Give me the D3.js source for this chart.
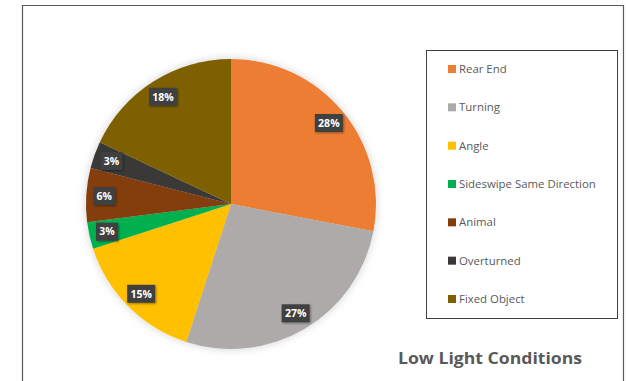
<!DOCTYPE html>
<html><head><meta charset="utf-8">
<script src="https://cdn.jsdelivr.net/npm/d3@7"></script>
<style>body{margin:0;background:#fff}svg{display:block}</style>
</head><body>
<svg id="c" width="628" height="381"></svg>
<script>
const categories = ["Rear End","Turning","Angle","Sideswipe Same Direction","Animal","Overturned","Fixed Object"];
const values = [28,27,15,3,6,3,18];
const colors = ["#ED7D31","#AEAAAA","#FFC000","#00B050","#843C0C","#3A3838","#7F6000"];
const title = "Low Light Conditions";

const svg = d3.select("#c");
const defs = svg.append("defs");
const f = defs.append("filter").attr("id","sh").attr("x","-20%").attr("y","-20%").attr("width","140%").attr("height","140%");
f.append("feDropShadow").attr("dx",0).attr("dy",0).attr("stdDeviation",4).attr("flood-color","#000").attr("flood-opacity",0.18);
const f2 = defs.append("filter").attr("id","lsh").attr("x","-30%").attr("y","-30%").attr("width","160%").attr("height","160%");
f2.append("feDropShadow").attr("dx",1).attr("dy",1).attr("stdDeviation",1).attr("flood-color","#000").attr("flood-opacity",0.4);

// outer frame (bottom runs off the picture)
svg.append("path").attr("d","M22.5,400 L22.5,5.5 L623.5,5.5 L623.5,400")
  .attr("fill","none").attr("stroke","#595959").attr("stroke-width",1.2);

const cx = 231, cy = 204, R = 145;
const pie = d3.pie().sort(null).value(d=>d)(values);
const arc = d3.arc().innerRadius(0).outerRadius(R);
const g = svg.append("g").attr("transform",`translate(${cx},${cy})`);
g.append("g").attr("filter","url(#sh)").selectAll("path").data(pie).join("path")
  .attr("d",arc).attr("fill",(d,i)=>colors[i]);

const labelArc = d3.arc().innerRadius(127).outerRadius(127);
const lg = g.selectAll("g.lbl").data(pie).join("g").attr("class","lbl")
  .attr("transform",d=>`translate(${labelArc.centroid(d)})`);
lg.append("rect").attr("filter","url(#lsh)")
  .attr("x",d=>-(d.value>=10?14:11)).attr("y",-9)
  .attr("width",d=>d.value>=10?28:22).attr("height",18)
  .attr("fill","#404040");
lg.append("text").text(d=>d.value+"%")
  .attr("text-anchor","middle").attr("dy","0.36em")
  .attr("font-family","Open Sans, sans-serif").attr("font-weight","bold")
  .attr("font-size",10.5).attr("fill","#fff");

// legend
svg.append("rect").attr("x",426.5).attr("y",50.5).attr("width",191).attr("height",268)
  .attr("fill","#fff").attr("stroke","#404040").attr("stroke-width",1);
const ly = d3.scalePoint().domain(categories).range([69,299]);
const li = svg.selectAll("g.leg").data(categories).join("g").attr("class","leg")
  .attr("transform",d=>`translate(448,${ly(d)})`);
li.append("rect").attr("x",0).attr("y",-4).attr("width",8).attr("height",8).attr("fill",(d,i)=>colors[i]);
li.append("text").text(d=>d).attr("x",11).attr("dy","0.35em")
  .attr("font-family","Open Sans, sans-serif").attr("font-size",11.4).attr("fill","#595959");

svg.append("text").text(title).attr("x",398).attr("y",364)
  .attr("font-family","Open Sans, sans-serif").attr("font-weight","bold")
  .attr("font-size",15.5).attr("fill","#595959")
  .attr("textLength",184).attr("lengthAdjust","spacingAndGlyphs");
</script>
</body></html>
